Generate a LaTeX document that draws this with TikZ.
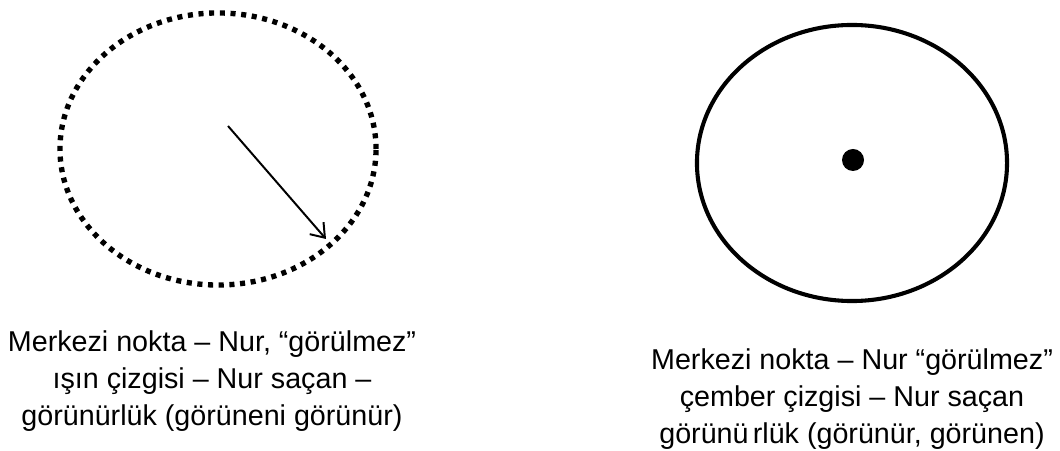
\documentclass[tikz,border=0pt]{standalone}
\usepackage{fontspec}
\setmainfont{Liberation Sans}
\usepackage{tikz}
\usetikzlibrary{shapes.geometric,arrows.meta,positioning}

\begin{document}
\begin{tikzpicture}[
            x=0.025cm, y=-0.025cm,
            every node/.style={font=\fontsize{20.4pt}{26.3pt}\selectfont},
            ring/.style={draw, ellipse, inner sep=0pt},
            caption/.style={align=center, inner sep=0pt},
        ]
            \useasboundingbox (0,0) rectangle (1060,451);
            % dotted ring with a ray
            \node[ring, line width=3.8pt, dash pattern=on 3.6pt off 4pt,
                  minimum width=7.9cm, minimum height=6.8cm] (lring) at (218,149) {};
            \coordinate (src) at (228,126);
            \coordinate (tip) at (326,239);
            \draw[line width=1.4pt, -{Straight Barb[length=9pt,width=13pt]}] (src) -- (tip);
            % solid ring with its centre
            \node[ring, line width=2.9pt, minimum width=7.75cm, minimum height=6.9cm] (rring) at (852,163) {};
            \node[circle, fill, inner sep=0pt, minimum size=0.55cm] (dot) at (853,160) {};
            % captions
            \node[caption, below=1.07cm of lring, xshift=-0.15cm] (ltext)
                {Merkezi nokta -- Nur, “görülmez”\\ ışın çizgisi -- Nur saçan --\\ görünürlük (görüneni görünür)};
            \node[caption, below=1.13cm of rring] (rtext)
                {Merkezi nokta -- Nur “görülmez”\\ çember çizgisi -- Nur saçan\\ görünü\hspace{3pt}rlük (görünür, görünen)};
        \end{tikzpicture}
\end{document}
